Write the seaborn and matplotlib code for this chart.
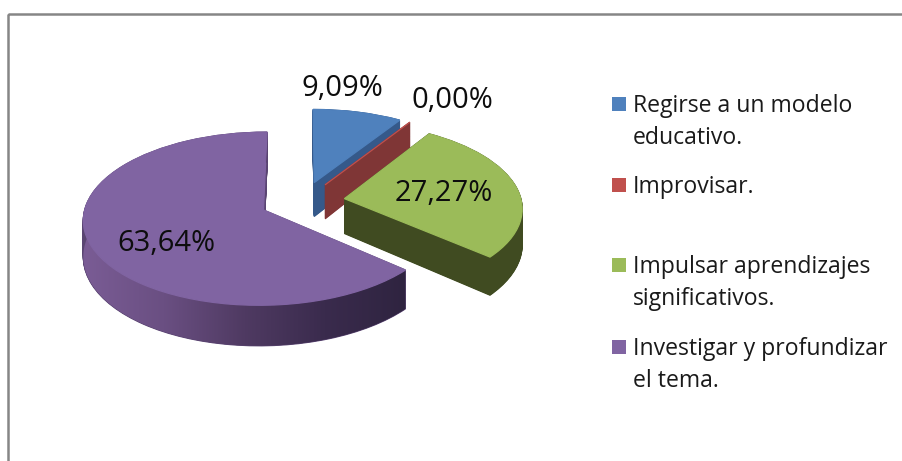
import numpy as np
import matplotlib
matplotlib.use("Agg")
import matplotlib.pyplot as plt
from matplotlib.colors import LinearSegmentedColormap
from matplotlib.patches import PathPatch, Rectangle
from matplotlib.path import Path
from matplotlib.transforms import Transform
import seaborn as sns

# ---- data ----
categories = ["Regirse a un modelo\neducativo.", "Improvisar.",
              "Impulsar aprendizajes\nsignificativos.",
              "Investigar y profundizar\nel tema."]
values = [9.09, 0.00, 27.27, 63.64]
top_colors = ["#4f81bd", "#c0504d", "#9bbb59", "#8064a2"]
wall_colors = ["#35598a", "#803636", "#404b21", "#5a4572"]
purple_wall_ramp = ["#7a5c95", "#6a4f82", "#4f3a62", "#3a2b4d", "#2f2440"]
explode = 0.24

# ---- layout (pixels in the 902x461 picture) ----
CX, CY, RX, RY, P = 302.5, 201.5, 177.0, 84.0, 0.10
DEPTH0, DEPTH1 = 35.0, 5.0
LAYERS = 70
value_label_pos = [(342, 88), (452, 100), (444, 193), (166, 243)]
legend_rows = [104, 185, 265, 347]

sns.set_theme(style="white")
plt.rcParams["font.family"] = ["Open Sans", "DejaVu Sans"]


class Tilt(Transform):
    """Perspective view of the flat pie; z=0 top face, z=1 bottom face."""
    input_dims = output_dims = 2
    is_separable = False
    has_inverse = False

    def __init__(self, z=0.0):
        super().__init__()
        self.z = z

    def transform_non_affine(self, values):
        v = np.asarray(values, float)
        u, w = v[:, 0], v[:, 1]
        den = 1 + P * w
        return np.column_stack((CX + RX * u / den,
                                CY - RY * w / den + self.z * (DEPTH0 - DEPTH1 * w)))


fig = plt.figure(figsize=(9.02, 4.61), dpi=100, facecolor="white")
ax = fig.add_axes([0, 0, 1, 1])


def draw_pie(colors, z, edge=True):
    wedges, _ = ax.pie(values, colors=colors, startangle=90, counterclock=False,
                       explode=[explode] * len(values), normalize=True)
    for w, c in zip(wedges, colors):
        w.set_transform(Tilt(z) + ax.transData)
        w.set_edgecolor(c)
        w.set_linewidth(0.9)
    return wedges


def set_pixel_view():
    ax.set_aspect("auto")
    ax.set_xlim(0, 902)
    ax.set_ylim(461, 0)
    ax.set_axis_off()


# side walls, piled from the bottom up
wedges = None
for z in np.linspace(1, 0, LAYERS):
    wedges = draw_pie(wall_colors, z)
set_pixel_view()

# shaded outer wall of the largest slice
big = wedges[-1]
theta = np.radians(np.linspace(big.theta1, big.theta2, 360))
rim = np.column_stack((big.center[0] + big.r * np.cos(theta),
                       big.center[1] + big.r * np.sin(theta)))
upper = Tilt(0).transform_non_affine(rim)
lower = Tilt(1).transform_non_affine(rim)
poly = Path(np.vstack((upper, lower[::-1], upper[:1])), closed=True)
clip = PathPatch(poly, transform=ax.transData, fc="none", ec="none")
ax.add_patch(clip)
cmap = LinearSegmentedColormap.from_list("wall", purple_wall_ramp)
img = ax.imshow(np.linspace(0, 1, 256)[None, :], cmap=cmap, aspect="auto",
                extent=(upper[:, 0].min(), upper[:, 0].max(), 400, 100), zorder=1.5)
img.set_clip_path(clip)

# top faces
top = draw_pie(top_colors, 0)
for w in top:
    w.set_zorder(2)
set_pixel_view()

# value labels
for v, (x, y) in zip(values, value_label_pos):
    ax.text(x, y, f"{v:.2f}".replace(".", ",") + "%", ha="center", va="center",
            fontsize=21, color="#0d0d0d", zorder=3)

# legend
for label, y, c in zip(categories, legend_rows, top_colors):
    ax.add_patch(Rectangle((612, y - 7), 14, 14, fc=c, ec="none", zorder=3))
    ax.text(633, y - 10.5, label, ha="left", va="top", fontsize=16.6,
            color="#1a1a1a", linespacing=1.45, zorder=3)

# chart frame: only top and left sides fall inside the picture
ax.add_patch(Rectangle((8, 13.8), 2000, 2000, fc="none", ec="#868686", lw=1.8, zorder=4))

fig.savefig("out.png", dpi=100, facecolor="white")
